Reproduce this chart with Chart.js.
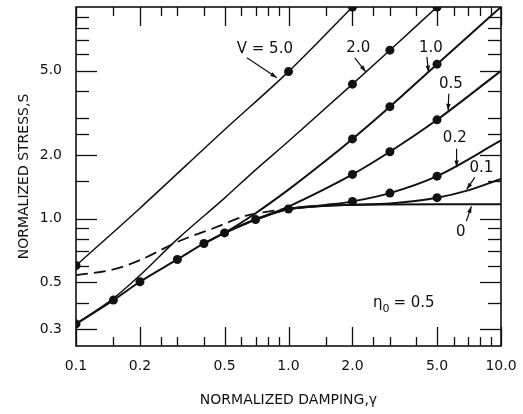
<!DOCTYPE html>
<html>
<head>
<meta charset="utf-8">
<script src="https://cdn.jsdelivr.net/npm/chart.js@4.4.1/dist/chart.umd.min.js"></script>
<style>
  html, body { margin: 0; padding: 0; background: #fff; }
</style>
</head>
<body>
<canvas id="stressChart" width="523" height="414"></canvas>
<script>
// normalized damping (gamma) and normalized stress (S), one pair per curve
const gammaV0 = [0.1, 0.15, 0.2, 0.3, 0.4, 0.5, 0.7, 1.0, 1.5, 2.0, 3.0, 5.0, 10.0];
const stressV0 = [0.318, 0.412, 0.503, 0.641, 0.763, 0.856, 0.99, 1.11, 1.15, 1.162, 1.166, 1.168, 1.168];

const gammaV01 = [1.0, 1.5, 2.0, 3.0, 5.0, 7.0, 10.0];
const stressV01 = [1.11, 1.15, 1.162, 1.18, 1.256, 1.36, 1.54];

const gammaV02 = [0.7, 1.0, 1.5, 2.0, 3.0, 5.0, 10.0];
const stressV02 = [0.99, 1.11, 1.16, 1.206, 1.32, 1.587, 2.34];

const gammaV05 = [0.5, 0.7, 1.0, 1.4, 2.0, 3.0, 5.0, 10.0];
const stressV05 = [0.856, 0.99, 1.14, 1.34, 1.617, 2.07, 2.93, 4.99];

const gammaV1 = [0.4, 0.5, 0.7, 1.0, 1.5, 2.0, 3.0, 5.0, 10.0];
const stressV1 = [0.763, 0.856, 1.06, 1.37, 1.88, 2.38, 3.38, 5.37, 10.0];

const gammaV2 = [0.1, 0.15, 0.2, 0.3, 0.5, 0.7, 1.0, 2.0, 3.0, 5.0];
const stressV2 = [0.318, 0.42, 0.54, 0.8, 1.25, 1.7, 2.32, 4.32, 6.25, 10.0];

const gammaV5 = [0.1, 0.2, 0.5, 1.0, 2.0];
const stressV5 = [0.6, 1.12, 2.63, 4.95, 10.0];

const gammaDashed = [0.1, 0.15, 0.2, 0.3, 0.46, 0.64, 0.8, 1.0];
const stressDashed = [0.541, 0.575, 0.636, 0.776, 0.913, 1.036, 1.08, 1.115];

// gamma values that carry a solid dot on each curve
const dotsV0 = [0.1, 0.15, 0.2, 0.3, 0.4, 0.5, 0.7, 1.0];
const dotsV01 = [5.0];
const dotsV02 = [2.0, 3.0, 5.0];
const dotsV05 = [2.0, 3.0, 5.0];
const dotsV1 = [2.0, 3.0, 5.0];
const dotsV2 = [2.0, 3.0, 5.0];
const dotsV5 = [0.1, 1.0, 2.0];

// axis ticks
const xTicks = [0.1, 0.2, 0.5, 1.0, 2.0, 5.0, 10.0];
const xMinor = [0.15, 0.25, 0.3, 0.4, 0.6, 0.7, 0.8, 0.9, 1.5, 2.5, 3, 4, 6, 7, 8, 9];
const yTicks = [0.3, 0.5, 1.0, 2.0, 5.0];
const yMinor = [0.4, 0.6, 0.7, 0.8, 0.9, 1.5, 2.5, 3, 4, 6, 7, 8, 9];

// curve labels (V values)
const curveLabels = ["V = 5.0", "2.0", "1.0", "0.5", "0.2", "0.1", "0"];

const ink = "#111";
const tickFont = { family: "DejaVu Sans", size: 14 };
const noteFont = "15px 'DejaVu Sans'";

// where each label sits and where its arrow points, in (gamma, S)
const notePlaces = [
  { at: [0.774, 6.34], from: [0.637, 5.75], to: [0.882, 4.63] },
  { at: [2.13, 6.41], from: [2.05, 5.75], to: [2.31, 4.94] },
  { at: [4.68, 6.41], from: [4.48, 5.81], to: [4.56, 4.91] },
  { at: [5.81, 4.34], from: [5.68, 3.89], to: [5.64, 3.24] },
  { at: [6.06, 2.41], from: [6.18, 2.14], to: [6.18, 1.75] },
  { at: [8.08, 1.725], from: [7.53, 1.565], to: [6.89, 1.374] },
  { at: [6.47, 0.862], from: [6.87, 0.971], to: [7.25, 1.143] }
];

function curve(gammas, stresses, dots, extra) {
  return Object.assign({
    data: gammas.map((g, i) => ({ x: g, y: stresses[i] })),
    borderColor: ink,
    backgroundColor: ink,
    borderWidth: 2,
    pointRadius: gammas.map(g => (dots.includes(g) ? 4.5 : 0)),
    pointBorderWidth: 0,
    pointHoverRadius: 0,
    cubicInterpolationMode: "monotone",
    fill: false
  }, extra || {});
}

function drawArrow(ctx, x0, y0, x1, y1) {
  ctx.beginPath();
  ctx.moveTo(x0, y0);
  ctx.lineTo(x1, y1);
  ctx.stroke();
  const ang = Math.atan2(y1 - y0, x1 - x0);
  ctx.beginPath();
  ctx.moveTo(x1, y1);
  ctx.lineTo(x1 - 7 * Math.cos(ang - 0.32), y1 - 7 * Math.sin(ang - 0.32));
  ctx.lineTo(x1 - 7 * Math.cos(ang + 0.32), y1 - 7 * Math.sin(ang + 0.32));
  ctx.closePath();
  ctx.fill();
}

function line(ctx, x0, y0, x1, y1) {
  ctx.beginPath();
  ctx.moveTo(x0, y0);
  ctx.lineTo(x1, y1);
  ctx.stroke();
}

// frame, inward ticks on all four sides, curve labels
const frameAndNotes = {
  id: "frameAndNotes",
  afterDraw(chart) {
    const ctx = chart.ctx;
    const a = chart.chartArea;
    const xs = chart.scales.x;
    const ys = chart.scales.y;
    ctx.save();
    ctx.setLineDash([]);
    ctx.strokeStyle = ink;
    ctx.fillStyle = ink;
    ctx.lineWidth = 1.3;

    for (const v of xTicks.concat(xMinor)) {
      const len = xTicks.includes(v) ? 19 : 9;
      const px = Math.round(xs.getPixelForValue(v)) + 0.5;
      line(ctx, px, a.bottom, px, a.bottom - len);
      line(ctx, px, a.top, px, a.top + len);
    }
    for (const v of yTicks.concat(yMinor)) {
      const len = yTicks.includes(v) ? 21 : 13;
      const py = Math.round(ys.getPixelForValue(v)) + 0.5;
      line(ctx, a.left, py, a.left + len, py);
      line(ctx, a.right, py, a.right - len, py);
    }

    ctx.lineWidth = 1.6;
    ctx.strokeRect(a.left, a.top, a.right - a.left, a.bottom - a.top);

    ctx.lineWidth = 1.2;
    ctx.font = noteFont;
    ctx.textAlign = "center";
    ctx.textBaseline = "middle";
    curveLabels.forEach((label, i) => {
      const p = notePlaces[i];
      ctx.fillText(label, xs.getPixelForValue(p.at[0]), ys.getPixelForValue(p.at[1]));
      drawArrow(ctx,
        xs.getPixelForValue(p.from[0]), ys.getPixelForValue(p.from[1]),
        xs.getPixelForValue(p.to[0]), ys.getPixelForValue(p.to[1]));
    });

    // eta_0 = 0.5
    let tx = xs.getPixelForValue(2.495);
    const ty = ys.getPixelForValue(0.399);
    ctx.textAlign = "left";
    ctx.fillText("η", tx, ty);
    tx += ctx.measureText("η").width;
    ctx.font = "11px 'DejaVu Sans'";
    ctx.fillText("0", tx, ty + 6);
    tx += ctx.measureText("0").width + 4;
    ctx.font = noteFont;
    ctx.fillText("= 0.5", tx, ty);
    ctx.restore();
  }
};

// drop the label overhang padding so the plot box lands where it should
function fixBox(s, size) {
  if (s.isHorizontal()) s.height = size; else s.width = size;
  s.paddingLeft = 0;
  s.paddingRight = 0;
  s.paddingTop = 0;
  s.paddingBottom = 0;
}

const ctx = document.getElementById("stressChart").getContext("2d");
new Chart(ctx, {
  type: "line",
  data: {
    datasets: [
      curve(gammaV0, stressV0, dotsV0),
      curve(gammaV01, stressV01, dotsV01),
      curve(gammaV02, stressV02, dotsV02),
      curve(gammaV05, stressV05, dotsV05),
      curve(gammaV1, stressV1, dotsV1),
      curve(gammaV2, stressV2, dotsV2, { borderWidth: 1.5 }),
      curve(gammaV5, stressV5, dotsV5, { borderWidth: 1.5 }),
      curve(gammaDashed, stressDashed, [], { borderWidth: 1.8, borderDash: [12, 6] })
    ]
  },
  options: {
    responsive: false,
    animation: false,
    devicePixelRatio: 1,
    layout: { padding: { top: 7, right: 22, left: 0, bottom: 0 } },
    plugins: { legend: { display: false }, tooltip: { enabled: false } },
    scales: {
      x: {
        type: "logarithmic",
        position: "bottom",
        min: 0.1,
        max: 10,
        grid: { display: false },
        border: { display: false },
        afterBuildTicks: s => { s.ticks = xTicks.map(v => ({ value: v })); },
        afterFit: s => fixBox(s, 68),
        ticks: {
          color: ink,
          font: tickFont,
          padding: 4,
          maxRotation: 0,
          autoSkip: false,
          callback: v => Number(v).toFixed(1)
        },
        title: {
          display: true,
          text: "NORMALIZED DAMPING,γ",
          color: ink,
          font: tickFont,
          padding: { top: 0, bottom: 5 }
        }
      },
      y: {
        type: "logarithmic",
        position: "left",
        min: 0.25,
        max: 10,
        grid: { display: false },
        border: { display: false },
        afterBuildTicks: s => { s.ticks = yTicks.map(v => ({ value: v })); },
        afterFit: s => fixBox(s, 76),
        ticks: {
          color: ink,
          font: tickFont,
          padding: 6,
          autoSkip: false,
          callback: v => Number(v).toFixed(1)
        },
        title: {
          display: true,
          text: "NORMALIZED STRESS,S",
          color: ink,
          font: tickFont,
          padding: { top: 16, bottom: 0 }
        }
      }
    }
  },
  plugins: [frameAndNotes]
});
</script>
</body>
</html>
